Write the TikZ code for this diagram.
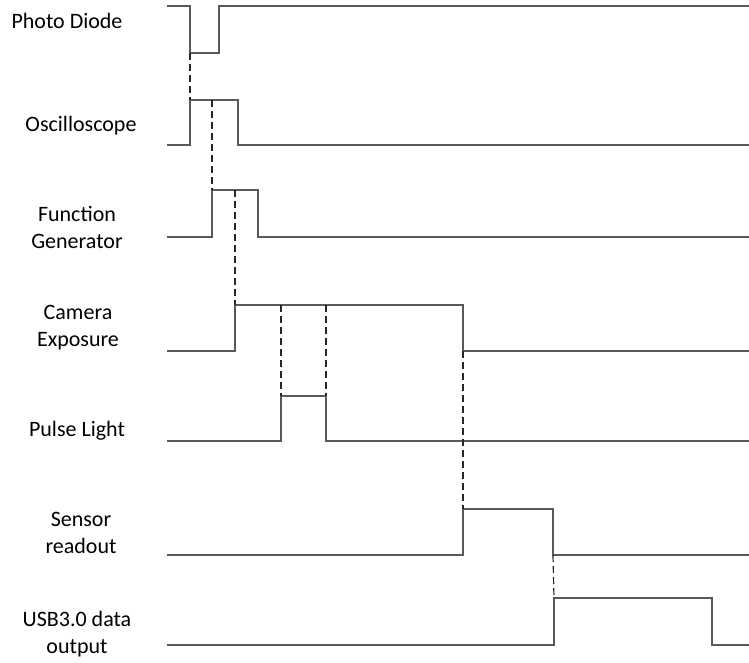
\documentclass[tikz,border=0pt]{standalone}
\usepackage{fontspec}
\setmainfont{Carlito}
\begin{document}
\begin{tikzpicture}[x=1pt,y=-1pt,
  sig/.style={draw=black!65,line width=1.1pt},
  sync/.style={draw=black!85,line width=1.2pt,dash pattern=on 7pt off 4pt},
  lbl/.style={font=\fontsize{22}{27}\selectfont,align=center,inner sep=0pt}]
\useasboundingbox (0,0) rectangle (749,663);
% labels
\node[lbl] (lpd) at (67,21) {Photo Diode};
\node[lbl] (los) at (81,126) {Oscilloscope};
\node[lbl] (lfg) at (77,227) {Function\\Generator};
\node[lbl] (lce) at (78,328) {Camera\\Exposure};
\node[lbl] (lpl) at (77,431) {Pulse Light};
\node[lbl] (lsr) at (81,533) {Sensor\\readout};
\node[lbl] (lusb) at (77,634) {USB3.0 data\\output};
% signals
\draw[sig] (167,6) -- (190,6) -- (190,53) coordinate (pdf) -- (219,53) -- (219,6) -- (749,6);
\draw[sig] (167,145) -- (190,145) -- (190,100) coordinate (osr) -- (212,100) coordinate (osm) -- (238,100) -- (238,145) -- (749,145);
\draw[sig] (167,237) -- (212,237) -- (212,190) coordinate (fgr) -- (235,190) coordinate (fgm) -- (258,190) -- (258,237) -- (749,237);
\draw[sig] (167,351) -- (235,351) -- (235,305) coordinate (cer) -- (281,305) coordinate (cea) -- (326,305) coordinate (ceb) -- (463,305) -- (463,351) coordinate (cef) -- (749,351);
\draw[sig] (167,441) -- (281,441) -- (281,396) coordinate (plr) -- (326,396) coordinate (plf) -- (326,441) -- (749,441);
\draw[sig] (167,555) -- (463,555) -- (463,509) coordinate (srr) -- (553,509) -- (553,555) coordinate (srf) -- (749,555);
\draw[sig] (167,645) -- (554,645) -- (554,598) coordinate (usr) -- (712,598) -- (712,645) -- (749,645);
% sync lines
\draw[sync] (pdf) -- (osr);
\draw[sync] (osm) -- (fgr);
\draw[sync] (fgm) -- (cer);
\draw[sync] (cea) -- (plr);
\draw[sync] (ceb) -- (plf);
\draw[sync] (cef) -- (srr);
\draw[sync] (srf) -- (usr);
\end{tikzpicture}
\end{document}
